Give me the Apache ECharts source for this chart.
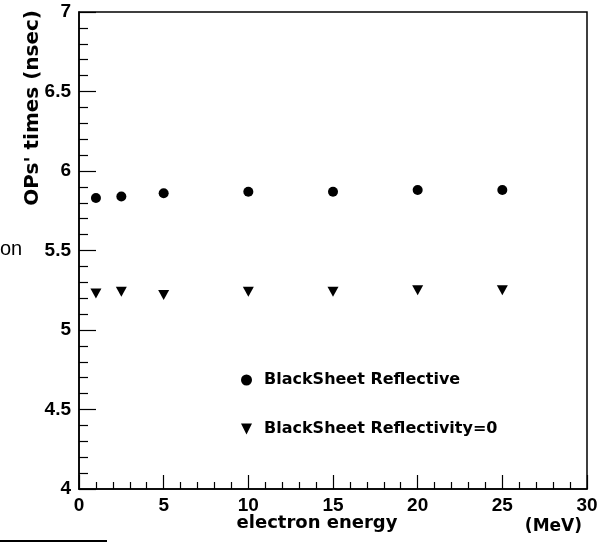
<!DOCTYPE html>
<html><head><meta charset="utf-8">
<script src="https://cdn.jsdelivr.net/npm/echarts@6/dist/echarts.min.js"></script>
<style>html,body{margin:0;padding:0;background:#fff}#c{width:608px;height:543px}</style>
</head><body><div id="c"></div>
<script>
var energies = [1, 2.5, 5, 10, 15, 20, 25];
var reflective = [5.83, 5.84, 5.86, 5.87, 5.87, 5.88, 5.88];
var reflectivity0 = [5.23, 5.24, 5.22, 5.24, 5.24, 5.25, 5.25];
var seriesNames = ['BlackSheet Reflective', 'BlackSheet Reflectivity=0'];
var xTitle = 'electron energy';
var xUnit = '(MeV)';
var yTitle = "OPs' times (nsec)";

function pairs(xs, ys){ return xs.map(function(x,i){ return [x, ys[i]]; }); }

var F = '"Liberation Sans", Arial, Helvetica, sans-serif';
var W = '"DejaVu Sans", Verdana, sans-serif';
var downTri = 'path://M0,0L10,0L5,10Z';
var chart = echarts.init(document.getElementById('c'), null, {renderer:'canvas'});
chart.setOption({
  animation:false,
  backgroundColor:'#fff',
  grid:{left:79, top:12, right:21, bottom:54, show:true, borderColor:'#000', borderWidth:1.5, backgroundColor:'transparent'},
  xAxis:{type:'value', min:0, max:30, interval:5,
    axisLine:{lineStyle:{color:'#000', width:1.5}},
    axisTick:{inside:true, length:14, lineStyle:{color:'#000', width:1.2}},
    minorTick:{show:true, splitNumber:5, length:7, lineStyle:{color:'#000', width:1.2}},
    axisLabel:{fontFamily:F, fontWeight:'bold', fontSize:19, color:'#000', margin:7},
    splitLine:{show:false}},
  yAxis:{type:'value', min:4, max:7, interval:0.5,
    axisLine:{show:true, lineStyle:{color:'#000', width:1.5}},
    axisTick:{show:true, inside:true, length:17, lineStyle:{color:'#000', width:1.2}},
    minorTick:{show:true, splitNumber:5, length:9, lineStyle:{color:'#000', width:1.2}},
    axisLabel:{fontFamily:F, fontWeight:'bold', fontSize:19, color:'#000', margin:8},
    splitLine:{show:false}},
  legend:{orient:'vertical', left:236, top:367, itemWidth:25, itemHeight:11, itemGap:33,
    data:seriesNames,
    textStyle:{fontFamily:W, fontWeight:'bold', fontSize:16, lineHeight:16, color:'#000'}},
  series:[
    {name:seriesNames[0], type:'scatter', data:pairs(energies, reflective), symbol:'circle', symbolSize:10,
      itemStyle:{color:'#000', opacity:1}},
    {name:seriesNames[1], type:'scatter', data:pairs(energies, reflectivity0), symbol:downTri, symbolSize:[11,10],
      itemStyle:{color:'#000', opacity:1}}
  ],
  graphic:[
    {type:'text', x:33, y:10, rotation:Math.PI/2,
      style:{text:yTitle, fill:'#000', font:'bold 20px '+W, textAlign:'right', textVerticalAlign:'middle'}},
    {type:'text', x:317, y:523,
      style:{text:xTitle, fill:'#000', font:'bold 18px '+W, textAlign:'center', textVerticalAlign:'middle'}},
    {type:'text', x:582, y:527,
      style:{text:xUnit, fill:'#000', font:'bold 17px '+W, textAlign:'right', textVerticalAlign:'middle'}},
    {type:'text', x:0, y:249,
      style:{text:'on', fill:'#000', font:'20px '+F, textAlign:'left', textVerticalAlign:'middle'}},
    {type:'rect', shape:{x:0, y:540, width:107, height:2}, style:{fill:'#000'}}
  ]
});
</script></body></html>
